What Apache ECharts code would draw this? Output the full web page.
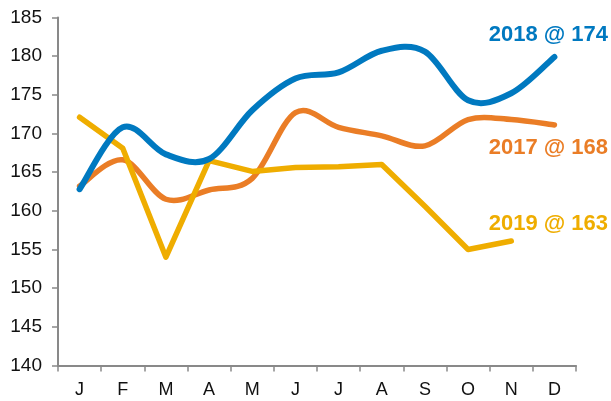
<!DOCTYPE html>
<html>
<head>
<meta charset="utf-8">
<script src="https://cdn.jsdelivr.net/npm/echarts@6/dist/echarts.min.js"></script>
<style>
html,body{margin:0;padding:0;background:#fff;}
#main{width:611px;height:401px;}
</style>
</head>
<body>
<div id="main"></div>
<script>
//月份
var months = ['J', 'F', 'M', 'A', 'M', 'J', 'J', 'A', 'S', 'O', 'N', 'D'];
//各年数据
var data2017 = [163.2, 166.6, 161.5, 162.7, 164.2, 172.7, 170.8, 169.7, 168.4, 171.8, 171.8, 171.1];
var data2018 = [162.8, 170.8, 167.3, 166.7, 173.0, 177.1, 177.9, 180.7, 180.6, 174.3, 175.2, 179.9];
var data2019 = [172.1, 168.1, 154.0, 166.5, 165.1, 165.6, 165.7, 166.0, 160.6, 155.0, 156.1];
//标签
var labelNames = ['2018 @ 174', '2017 @ 168', '2019 @ 163'];

var FONT = '"Liberation Sans", Arial, sans-serif';

initChart();

function initChart() {
	var myChart = echarts.init(document.getElementById('main'));
	var option = {
		animation: false,
		backgroundColor: '#fff',
		grid: {
			left: 58,
			right: 35,
			top: 17.5,
			bottom: 35.5
		},
		xAxis: {
			type: 'category',
			data: months,
			boundaryGap: true,
			axisLine: { lineStyle: { color: '#898989', width: 2 } },
			axisTick: { show: true, length: 6, lineStyle: { color: '#898989', width: 1.5 } },
			axisLabel: { color: '#111', fontSize: 18, fontFamily: FONT, margin: 16 }
		},
		yAxis: {
			type: 'value',
			min: 140,
			max: 185,
			interval: 5,
			splitLine: { show: false },
			axisLine: { show: true, lineStyle: { color: '#898989', width: 2 } },
			axisTick: { show: true, length: 6, lineStyle: { color: '#898989', width: 1.5 } },
			axisLabel: { color: '#111', fontSize: 19, fontFamily: FONT, margin: 16 }
		},
		series: [
			curveSeries('2017', data2017, '#EA7D26', 5.5, true),
			curveSeries('2019', data2019, '#EFAD00', 5.5, false),
			curveSeries('2018', data2018, '#0079C0', 6, true)
		],
		graphic: [
			label(labelNames[0], 35, '#0079C0'),
			label(labelNames[1], 148, '#EA7D26'),
			label(labelNames[2], 224, '#EFAD00')
		]
	};
	myChart.setOption(option);
}

//曲线 (类似Excel平滑线, Catmull-Rom)
function curveSeries(name, values, color, width, smooth) {
	return {
		name: name,
		type: 'custom',
		coordinateSystem: 'cartesian2d',
		data: [[0, values[0]]],
		renderItem: function (params, api) {
			var pts = [];
			for (var i = 0; i < values.length; i++) {
				pts.push(api.coord([i, values[i]]));
			}
			var d = 'M' + pts[0][0] + ' ' + pts[0][1];
			for (var i = 0; i < pts.length - 1; i++) {
				var p0 = pts[Math.max(i - 1, 0)];
				var p1 = pts[i];
				var p2 = pts[i + 1];
				var p3 = pts[Math.min(i + 2, pts.length - 1)];
				if (smooth) {
					var c1x = p1[0] + (p2[0] - p0[0]) / 6, c1y = p1[1] + (p2[1] - p0[1]) / 6;
					var c2x = p2[0] - (p3[0] - p1[0]) / 6, c2y = p2[1] - (p3[1] - p1[1]) / 6;
					d += ' C' + c1x + ' ' + c1y + ' ' + c2x + ' ' + c2y + ' ' + p2[0] + ' ' + p2[1];
				} else {
					d += ' L' + p2[0] + ' ' + p2[1];
				}
			}
			return {
				type: 'path',
				shape: { pathData: d },
				style: { fill: 'none', stroke: color, lineWidth: width, lineCap: 'round', lineJoin: 'round' },
				silent: true
			};
		}
	};
}

//右侧文字
function label(text, y, color) {
	return {
		type: 'text',
		x: 608,
		y: y,
		style: {
			text: text,
			fill: color,
			font: 'bold 22px ' + FONT,
			textAlign: 'right',
			textVerticalAlign: 'middle'
		}
	};
}
</script>
</body>
</html>
